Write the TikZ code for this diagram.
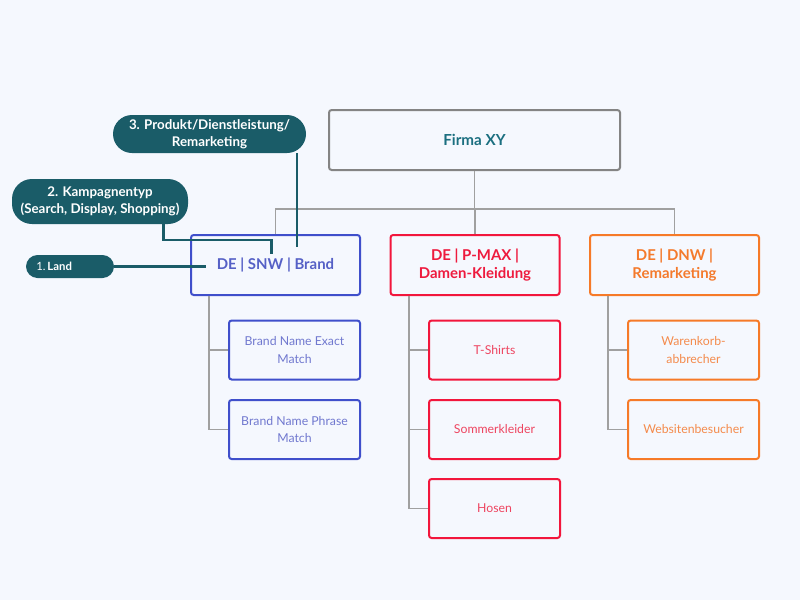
\documentclass[tikz,border=0pt]{standalone}
\usepackage{fontspec}
\setmainfont{Lato}
\usetikzlibrary{calc}
\definecolor{bg}{HTML}{F5F8FE}
\definecolor{teal}{HTML}{1A5C68}
\definecolor{firmatxt}{HTML}{1B6F80}
\definecolor{gborder}{HTML}{848484}
\definecolor{conn}{HTML}{A0A0A0}
\definecolor{cblue}{HTML}{3F4FCB}
\definecolor{tblue}{HTML}{5560C6}
\definecolor{lblue}{HTML}{7078CF}
\definecolor{cred}{HTML}{F2163C}
\definecolor{tred}{HTML}{EE1A3E}
\definecolor{lred}{HTML}{EE4560}
\definecolor{corange}{HTML}{F67A28}
\definecolor{torange}{HTML}{F47A2C}
\definecolor{lorange}{HTML}{F48B4C}
\def\px{0.75pt}
\tikzset{
  parentbox/.style={draw, line width=1.5pt, rounded corners=2pt, minimum width=169*\px, minimum height=60*\px, align=center, font=\fontsize{11.2}{13.5}\selectfont\bfseries, inner sep=0pt},
  childbox/.style={draw, line width=1.5pt, rounded corners=2pt, minimum width=131*\px, minimum height=59*\px, align=center, font=\fontsize{9.2}{12.8}\selectfont, inner sep=0pt},
  pill/.style={fill=teal, text=white, font=\fontsize{10}{12.8}\selectfont\bfseries, align=center, inner sep=0pt},
  gline/.style={draw=conn, line width=0.8pt},
  tline/.style={draw=teal, line width=2.2pt},
}
\begin{document}
\begin{tikzpicture}[x=0.75pt, y=-0.75pt]
\fill[bg] (0,0) rectangle (800,600);
\useasboundingbox (0,0) rectangle (800,600);

% root
\node[draw=gborder, line width=1.5pt, rounded corners=2pt, minimum width=291*\px, minimum height=60*\px, text=firmatxt, font=\fontsize{11.4}{13}\selectfont\bfseries, inner sep=0pt] (firma) at (474.5,140) {Firma XY};

% parents
\node[parentbox, draw=cblue, text=tblue] (snw) at (275.5,265) {DE | SNW | Brand};
\node[parentbox, draw=cred, text=tred] (pmax) at (475,265) {DE | P-MAX |\\Damen-Kleidung};
\node[parentbox, draw=corange, text=torange] (dnw) at (674.5,265) {DE | DNW |\\Remarketing};

% children
\node[childbox, draw=cblue, text=lblue] (b1) at (294.5,350) {Brand Name Exact\\Match};
\node[childbox, draw=cblue, text=lblue] (b2) at (294.5,429.5) {Brand Name Phrase\\Match};
\node[childbox, draw=cred, text=lred] (r1) at (494.5,350) {T-Shirts};
\node[childbox, draw=cred, text=lred] (r2) at (494.5,429.5) {Sommerkleider};
\node[childbox, draw=cred, text=lred] (r3) at (494.5,508.5) {Hosen};
\node[childbox, draw=corange, text=lorange] (o1) at (693.5,350) {Warenkorb-\\abbrecher};
\node[childbox, draw=corange, text=lorange] (o2) at (693.5,429.5) {Websitenbesucher};

% tree connectors
\coordinate (bus) at (474.5,209);
\draw[gline] (firma.south) -- (bus);
\draw[gline] (snw.north) |- (bus) -| (dnw.north);
\draw[gline] (pmax.north) -- (pmax.north |- bus);

\coordinate (bx) at (209,0);
\coordinate (rx) at (409,0);
\coordinate (ox) at (608,0);
\draw[gline] (snw.south -| bx) |- (b2.west);
\draw[gline] (bx |- b1.west) -- (b1.west);
\draw[gline] (pmax.south -| rx) |- (r3.west);
\draw[gline] (rx |- r1.west) -- (r1.west);
\draw[gline] (rx |- r2.west) -- (r2.west);
\draw[gline] (dnw.south -| ox) |- (o2.west);
\draw[gline] (ox |- o1.west) -- (o1.west);

% pills
\node[pill, rounded corners=11.5*\px, minimum width=88*\px, minimum height=23*\px, text width=70*\px, align=left, font=\fontsize{8.5}{10}\selectfont] (land) at (70,266.5) {\hspace*{1pt}1.\,\textbf{Land}};
\node[pill, rounded corners=20*\px, minimum width=176*\px, minimum height=45*\px] (kamp) at (100,201.5) {2. Kampagnentyp\\(Search, Display, Shopping)};
\node[pill, rounded corners=19*\px, minimum width=193*\px, minimum height=38*\px] (prod) at (209.5,134) {3. Produkt/Dienstleistung/\\Remarketing};

\coordinate (landend) at (206,266.5);
\coordinate (kampend) at (271.5,254);
\coordinate (prodend) at (297,247);
\draw[tline] (land.east) -- (landend);
\draw[tline] (kamp.south -| 163.5,0) -- (163.5,240) -| (kampend);
\draw[tline] (prod.south -| prodend) -- (prodend);
\end{tikzpicture}
\end{document}
